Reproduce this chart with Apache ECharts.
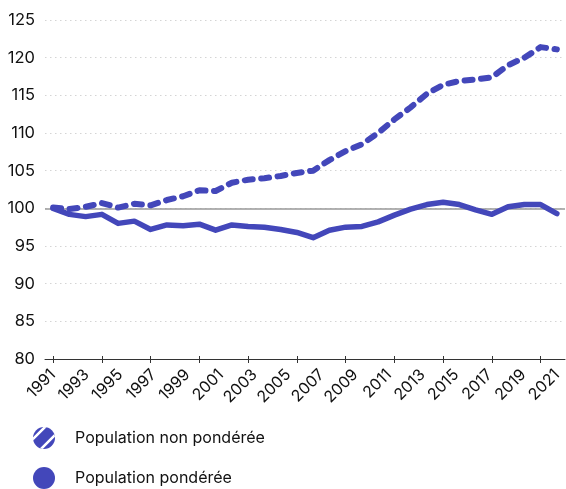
<!DOCTYPE html>
<html>
<head>
<meta charset="utf-8">
<script src="https://cdn.jsdelivr.net/npm/echarts@6/dist/echarts.min.js"></script>
<style>
html,body{margin:0;padding:0;background:#fff;}
#c{width:566px;height:489px;}
</style>
</head>
<body>
<div id="c"></div>
<script>
// Data points (32 evenly spaced observations)
const periods = ['1991','1992','1993','1994','1995','1996','1997','1998','1999','2000','2001','2002','2003','2004','2005','2006','2007','2008','2009','2010','2011','2012','2013','2014','2015','2016','2017','2018','2019','2020','2021','2022'];
// Axis labels as printed
const labelYears = ['1991','1992','1993','1994','1995','1996','1997','1998','1999','2000','2001','2002','2003','2004','2005','2006','2007','2008','2009','2010','2011','2012','2013','2014','2015','2016','2017','2018','2019','2020','2021'];
const nonPonderee = [100.1, 99.9, 100.2, 100.7, 100.1, 100.6, 100.4, 101.1, 101.6, 102.4, 102.3, 103.4, 103.8, 104.0, 104.3, 104.7, 105.0, 106.4, 107.6, 108.5, 110.0, 111.8, 113.4, 115.2, 116.4, 116.9, 117.1, 117.4, 119.0, 120.0, 121.4, 121.1];
const ponderee = [100.0, 99.2, 98.9, 99.2, 98.0, 98.3, 97.2, 97.8, 97.7, 97.9, 97.1, 97.8, 97.6, 97.5, 97.2, 96.8, 96.1, 97.1, 97.5, 97.6, 98.2, 99.1, 99.9, 100.5, 100.8, 100.5, 99.8, 99.2, 100.2, 100.5, 100.5, 99.3];
const yMin = 80, yMax = 125, yStep = 5;
const baseLine = 100;
const seriesNames = ['Population non pondérée', 'Population pondérée'];

const BLUE = '#4347BA';
const FONT = 'Inter, "Noto Sans", sans-serif';
const hatchSvg = "<svg xmlns='http://www.w3.org/2000/svg' width='22' height='22' viewBox='0 0 22 22'><defs><clipPath id='c'><circle cx='11' cy='11' r='11'/></clipPath></defs><g clip-path='url(#c)'><rect width='22' height='22' fill='" + BLUE + "'/><path d='M-3 15 L15 -3 M5 25 L25 5' stroke='#fff' stroke-width='2.6'/></g></svg>";
const hatchIcon = 'image://data:image/svg+xml;charset=utf-8,' + encodeURIComponent(hatchSvg);

const chart = echarts.init(document.getElementById('c'), null, {renderer: 'canvas'});
chart.setOption({
  animation: false,
  textStyle: {fontFamily: FONT},
  grid: [
    {left: 45, right: 1, top: 20, bottom: 130},
    {left: 53, right: 9, top: 20, bottom: 130}
  ],
  xAxis: [
    {
      type: 'category', gridIndex: 0, data: periods, boundaryGap: true, position: 'bottom',
      axisLine: {show: true, lineStyle: {color: '#333', width: 1}},
      axisTick: {show: true, alignWithLabel: true, length: 4, lineStyle: {color: '#333'}},
      axisLabel: {show: false}
    },
    {
      type: 'category', gridIndex: 0, data: periods, boundaryGap: true, position: 'bottom',
      axisLine: {show: false},
      axisTick: {show: true, inside: true, alignWithLabel: true, length: 3, lineStyle: {color: '#333'}},
      axisLabel: {show: false}
    },
    {
      type: 'category', gridIndex: 1, data: labelYears, boundaryGap: false, position: 'bottom',
      axisLine: {show: false}, axisTick: {show: false},
      axisLabel: {show: true, interval: 1, rotate: 45, margin: 13, fontSize: 16, color: '#111', fontFamily: FONT}
    }
  ],
  yAxis: [
    {
      type: 'value', gridIndex: 0, min: yMin, max: yMax, interval: yStep,
      axisLine: {show: false}, axisTick: {show: false},
      axisLabel: {fontSize: 16.5, color: '#111', margin: 10, fontFamily: FONT},
      splitLine: {show: true, lineStyle: {color: '#d4d4d4', width: 1, type: [1.5, 3.5]}}
    },
    {
      type: 'value', gridIndex: 1, min: yMin, max: yMax, interval: yStep, show: false
    }
  ],
  legend: {
    orient: 'vertical', left: 33, top: 427, padding: 0, itemWidth: 22, itemHeight: 22, itemGap: 18,
    textStyle: {fontSize: 16, color: '#111', fontFamily: FONT, padding: [0, 0, 0, 15]},
    data: [
      {name: seriesNames[0], icon: hatchIcon},
      {name: seriesNames[1], icon: 'circle'}
    ]
  },
  series: [
    {
      name: seriesNames[1], type: 'line', xAxisIndex: 0, yAxisIndex: 0, data: ponderee,
      showSymbol: false, symbol: 'none', color: BLUE,
      lineStyle: {color: BLUE, width: 5.5, cap: 'round', join: 'round'},
      markLine: {
        silent: true, symbol: 'none', label: {show: false},
        lineStyle: {color: '#999', width: 1.5, type: 'solid'},
        data: [{yAxis: baseLine}], z: 1
      },
      z: 3
    },
    {
      name: seriesNames[0], type: 'line', xAxisIndex: 0, yAxisIndex: 0, data: nonPonderee,
      showSymbol: false, symbol: 'none', color: BLUE,
      lineStyle: {color: BLUE, width: 6, type: [8, 8.5], cap: 'round', join: 'round'},
      z: 4
    }
  ]
});
</script>
</body>
</html>
